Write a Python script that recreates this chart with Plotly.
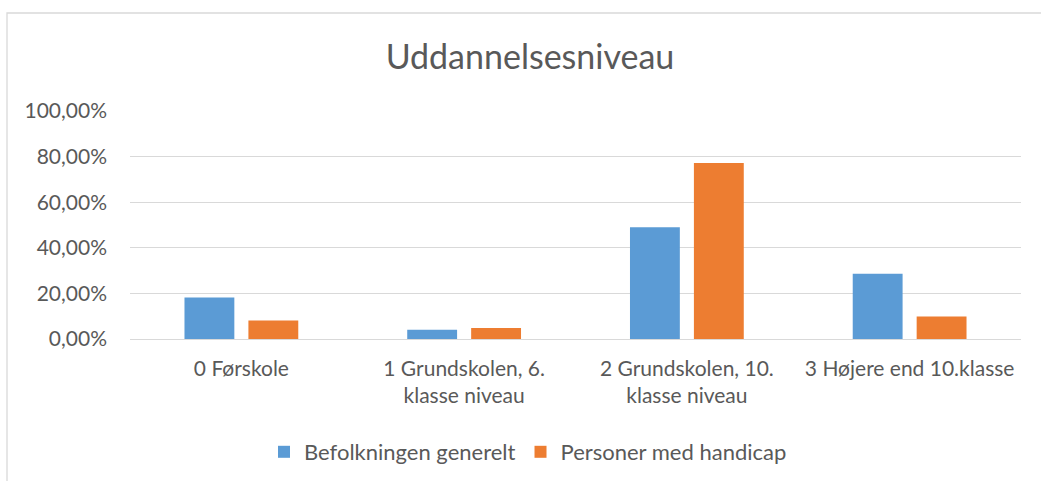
import plotly.graph_objects as go

categories = ["0 Førskole", "1 Grundskolen, 6.<br>klasse niveau",
              "2 Grundskolen, 10.<br>klasse niveau", "3 Højere end 10.klasse"]
befolkning = [0.182, 0.041, 0.490, 0.286]
handicap = [0.081, 0.048, 0.772, 0.099]
series_names = ["Befolkningen generelt", "Personer med handicap"]
tick_vals = [0, 0.2, 0.4, 0.6, 0.8, 1.0]

FONT = "Lato"
TXT = "#595959"

fig = go.Figure()
fig.add_trace(go.Bar(x=categories, y=befolkning, name=series_names[0],
                     marker=dict(color="#5B9BD5", line=dict(width=0))))
fig.add_trace(go.Bar(x=categories, y=handicap, name=series_names[1],
                     marker=dict(color="#ED7D31", line=dict(width=0))))

W, H = 1041, 481
L, R, T, B = 130, 20, 111, 142
pw, ph = W - L - R, H - T - B

fig.update_layout(
    width=W, height=H,
    margin=dict(l=L, r=R, t=T, b=B, autoexpand=False),
    paper_bgcolor="white", plot_bgcolor="white",
    separators=", ",
    barmode="group", bargap=0.426, bargroupgap=0.22,
    font=dict(family=FONT, color=TXT, size=21),
    title=dict(text="Uddannelsesniveau", x=530 / W, xref="container",
               xanchor="center", y=1 - 57 / H, yref="container", yanchor="middle",
               font=dict(family=FONT, size=34, color=TXT)),
    showlegend=True,
    legend=dict(orientation="h", x=(528 - L) / pw, xanchor="center",
                y=-(452 - (T + ph)) / ph, yanchor="middle",
                font=dict(family=FONT, size=22, color=TXT),
                itemsizing="constant", itemwidth=30, tracegroupgap=0,
                bgcolor="rgba(0,0,0,0)"),
    xaxis=dict(showgrid=False, showline=False, ticks="", zeroline=False,
               tickfont=dict(family=FONT, size=21, color=TXT),
               ticklabelstandoff=15, fixedrange=True),
    yaxis=dict(range=[0, 1.0], tickvals=tick_vals, tickformat=".2%",
               showgrid=True, gridcolor="#D9D9D9", gridwidth=1.3,
               zeroline=True, zerolinecolor="#D9D9D9", zerolinewidth=1.3,
               showline=False, ticks="",
               tickfont=dict(family=FONT, size=21, color=TXT),
               ticklabelstandoff=22, fixedrange=True),
    shapes=[dict(type="rect", xref="paper", yref="paper",
                 x0=(7 - L) / pw, x1=(1100 - L) / pw,
                 y0=-(600 - (T + ph)) / ph, y1=((T + ph) - 13) / ph,
                 line=dict(color="#D9D9D9", width=1.3), fillcolor="rgba(0,0,0,0)",
                 layer="below")],
)

fig.write_html("out.html", config={"displayModeBar": False},
               post_script="document.body.style.margin='0';document.body.style.overflow='hidden';")
